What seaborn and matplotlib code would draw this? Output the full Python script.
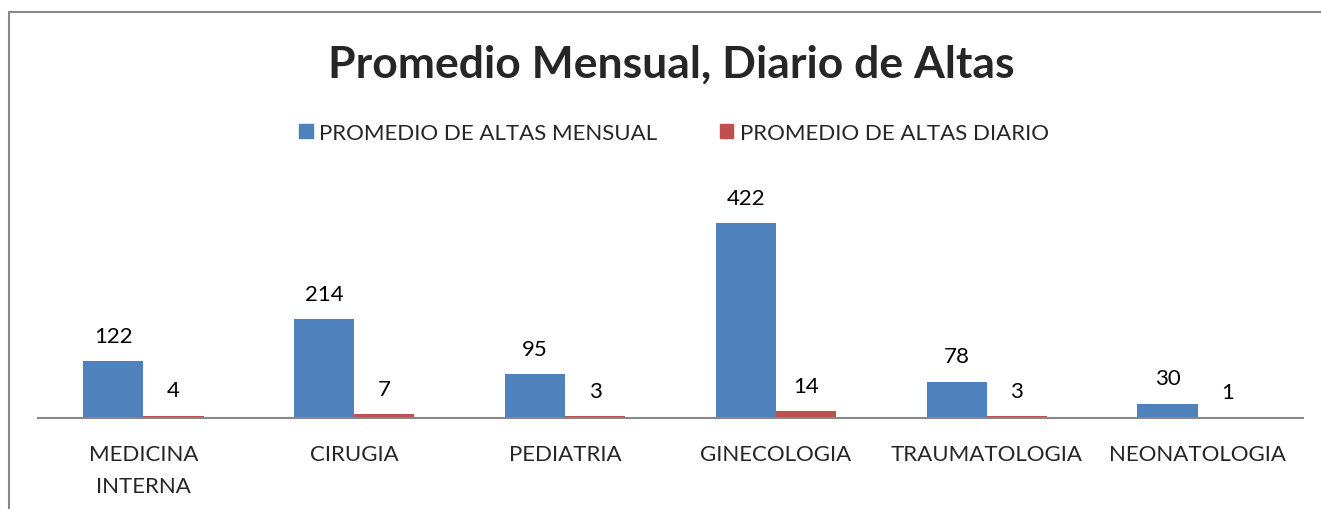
import pandas as pd
import seaborn as sns
import matplotlib.pyplot as plt
from matplotlib.lines import Line2D

# values
servicios = ['MEDICINA\nINTERNA', 'CIRUGIA', 'PEDIATRIA', 'GINECOLOGIA', 'TRAUMATOLOGIA', 'NEONATOLOGIA']
altas_mensual = [122, 214, 95, 422, 78, 30]
altas_diario = [4, 7, 3, 14, 3, 1]
series = ['PROMEDIO DE ALTAS MENSUAL', 'PROMEDIO DE ALTAS DIARIO']
colores = ['#4F81BD', '#C0504D']

df = pd.DataFrame({
    'servicio': servicios * 2,
    'serie': [series[0]] * len(servicios) + [series[1]] * len(servicios),
    'valor': altas_mensual + altas_diario,
})

sns.set_style('white')
plt.rcParams['font.family'] = ['Lato', 'DejaVu Sans']

W, H = 1321, 510
fig = plt.figure(figsize=(W / 100, H / 100), dpi=100)
ax_bottom = 418.5
ax_top = 211.5
ax = fig.add_axes([38 / W, (H - ax_bottom) / H, 1265 / W, (ax_bottom - ax_top) / H])

sns.barplot(data=df, x='servicio', y='valor', hue='serie', order=servicios,
            hue_order=series, palette=colores, width=0.57, saturation=1,
            edgecolor='none', ax=ax)

for cont in ax.containers:
    ax.bar_label(cont, padding=11, fontsize=16, color='black')

ax.set_xlim(-0.5, len(servicios) - 0.5)
ax.set_ylim(0, 450)
ax.set_xlabel('')
ax.set_ylabel('')
ax.set_yticks([])
ax.tick_params(axis='x', length=0, pad=19, labelsize=16)
for lbl in ax.get_xticklabels():
    lbl.set_linespacing(1.75)
for side in ['top', 'left', 'right']:
    ax.spines[side].set_visible(False)
ax.spines['bottom'].set_color('#888888')
ax.spines['bottom'].set_linewidth(1.5)

ax.legend_.remove()
handles = [plt.Rectangle((0, 0), 1, 1, color=c) for c in colores]
fig.legend(handles, series, loc='center', bbox_to_anchor=(674 / W, 1 - 134 / H),
           ncol=2, frameon=False, fontsize=16, handlelength=0.6, handleheight=0.6,
           handletextpad=0.3, columnspacing=2.8)

fig.text(671 / W, 1 - 65 / H, 'Promedio Mensual, Diario de Altas', ha='center', va='center',
         fontsize=32, fontweight='bold')

# outer chart border (top and left edges visible)
fig.add_artist(Line2D([8.5 / W, 1], [1 - 12.5 / H, 1 - 12.5 / H], color='#888888', lw=1.5,
                      transform=fig.transFigure))
fig.add_artist(Line2D([8.5 / W, 8.5 / W], [0, 1 - 12.5 / H], color='#888888', lw=1.5,
                      transform=fig.transFigure))

fig.savefig('out.png', dpi=100)
